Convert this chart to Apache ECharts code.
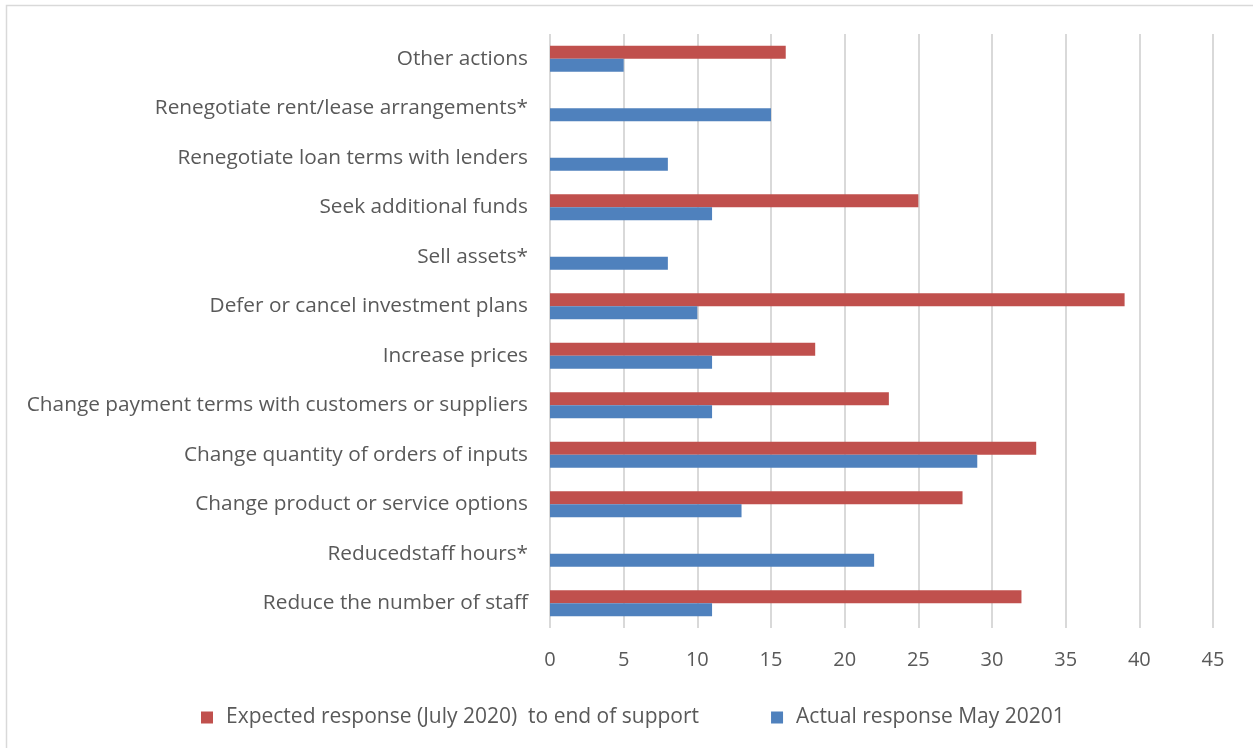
<!DOCTYPE html>
<html>
<head>
<meta charset="utf-8">
<script src="https://cdn.jsdelivr.net/npm/echarts@6/dist/echarts.min.js"></script>
<style>
  html, body { margin: 0; padding: 0; background: #fff; }
  #chart { width: 1253px; height: 748px; }
</style>
</head>
<body>
<div id="chart"></div>
<script>
// Responses, listed from top row to bottom row
const categories = [
  'Other actions',
  'Renegotiate rent/lease arrangements*',
  'Renegotiate loan terms with lenders',
  'Seek additional funds',
  'Sell assets*',
  'Defer or cancel investment plans',
  'Increase prices',
  'Change payment terms with customers or suppliers',
  'Change quantity of orders of inputs',
  'Change product or service options',
  'Reducedstaff hours*',
  'Reduce the number of staff'
];
const expectedName = 'Expected response (July 2020)  to end of support';
const actualName = 'Actual response May 20201';
const expectedValues = [16, null, null, 25, null, 39, 18, 23, 33, 28, null, 32];
const actualValues = [5, 15, 8, 11, 8, 10, 11, 11, 29, 13, 22, 11];
const xTicks = [0, 5, 10, 15, 20, 25, 30, 35, 40, 45];

const FONT = 'Open Sans';
const TEXT = '#595959';

const chart = echarts.init(document.getElementById('chart'));
chart.setOption({
  animation: false,
  backgroundColor: '#fff',
  textStyle: { fontFamily: FONT, color: TEXT },
  graphic: [{
    type: 'rect',
    shape: { x: 6.5, y: 5.5, width: 1300, height: 800 },
    style: { fill: 'none', stroke: '#d9d9d9', lineWidth: 1.5 },
    silent: true
  }],
  grid: { left: 550, right: 40, top: 34, bottom: 120 },
  legend: {
    data: [expectedName, actualName],
    left: 196,
    top: 702,
    icon: 'rect',
    itemWidth: 12,
    itemHeight: 12,
    itemGap: 72,
    textStyle: { fontFamily: FONT, fontSize: 21, color: TEXT, padding: [0, 0, 0, 8] }
  },
  xAxis: {
    type: 'value',
    min: xTicks[0],
    max: xTicks[xTicks.length - 1],
    interval: 5,
    axisLine: { show: false },
    axisTick: { show: false },
    splitLine: { show: true, lineStyle: { color: '#d9d9d9', width: 2 } },
    axisLabel: { fontFamily: FONT, fontSize: 20, color: TEXT, margin: 22 }
  },
  yAxis: {
    type: 'category',
    data: categories,
    inverse: true,
    axisLine: { show: false },
    axisTick: { show: false },
    axisLabel: { fontFamily: FONT, fontSize: 20.8, color: TEXT, margin: 22, padding: [3, 0, 0, 0] }
  },
  series: [
    {
      name: expectedName,
      type: 'bar',
      data: expectedValues,
      barWidth: 13,
      barGap: '0%',
      itemStyle: { color: '#c0504d' }
    },
    {
      name: actualName,
      type: 'bar',
      data: actualValues,
      barWidth: 13,
      barGap: '0%',
      itemStyle: { color: '#4f81bd' }
    }
  ]
});
</script>
</body>
</html>
